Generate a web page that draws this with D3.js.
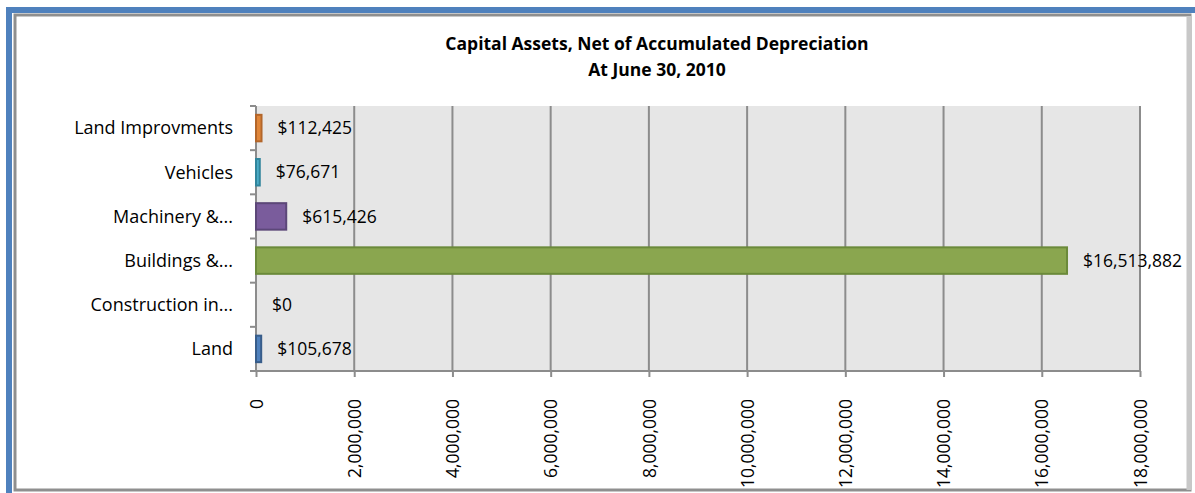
<!DOCTYPE html>
<html>
<head>
<meta charset="utf-8">
<script src="https://cdn.jsdelivr.net/npm/d3@7"></script>
<style>
  body { margin: 0; background: #fff; }
  svg { display: block; }
</style>
</head>
<body>
<div id="chart"></div>
<script>
// data, bottom to top order as in the chart
const categories = ["Land", "Construction in...", "Buildings &...", "Machinery &...", "Vehicles", "Land Improvments"];
const values = [105678, 0, 16513882, 615426, 76671, 112425];
const fills = ["#4f81bd", "#c0504d", "#8aa64f", "#7a5c9c", "#4bacc6", "#e0863a"];
const strokes = ["#385d8a", "#8c3836", "#6b8a3a", "#5c4778", "#31859c", "#b3662a"];
const xTicks = [0, 2000000, 4000000, 6000000, 8000000, 10000000, 12000000, 14000000, 16000000, 18000000];
const titleLines = ["Capital Assets, Net of Accumulated Depreciation", "At June 30, 2010"];

const W = 1195, H = 493;
const margin = { top: 106, right: 55, bottom: 122, left: 256 };
const width = W - margin.left - margin.right;
const height = H - margin.top - margin.bottom;

const root = d3.select("#chart").append("svg")
    .attr("width", W)
    .attr("height", H)
    .style("font-family", "'Open Sans', sans-serif");

// frame: blue outer border + gray bevel
root.append("rect")
    .attr("x", 9).attr("y", 10)
    .attr("width", W).attr("height", H)
    .attr("fill", "none")
    .attr("stroke", "#4f81bd")
    .attr("stroke-width", 6);
root.append("rect")
    .attr("x", 15).attr("y", 15)
    .attr("width", 1175).attr("height", 475)
    .attr("fill", "#fff")
    .attr("stroke", "#8f8f8f")
    .attr("stroke-width", 3);
root.append("line")
    .attr("x1", 1189).attr("x2", 1189).attr("y1", 16).attr("y2", 490)
    .attr("stroke", "#c8c8c8").attr("stroke-width", 5);

root.selectAll(".title")
    .data(titleLines)
    .enter()
    .append("text")
    .attr("x", 657)
    .attr("y", (d, i) => 50 + i * 26)
    .attr("text-anchor", "middle")
    .style("font-size", "17.5px")
    .style("font-weight", "bold")
    .style("fill", "#000")
    .text(d => d);

const svg = root.append("g")
    .attr("transform", `translate(${margin.left}, ${margin.top})`);

const xScale = d3.scaleLinear()
    .domain([0, 18000000])
    .range([0, width]);

const yScale = d3.scaleBand()
    .domain(categories.slice().reverse())
    .range([0, height])
    .paddingInner(0.4)
    .paddingOuter(0.2);

const yTickScale = d3.scaleLinear().domain([0, categories.length]).range([0, height]);

svg.append("rect")
    .attr("width", width)
    .attr("height", height)
    .attr("fill", "#e6e6e6");

// vertical gridlines
svg.selectAll(".grid")
    .data(xTicks.slice(1))
    .enter()
    .append("line")
    .attr("x1", d => xScale(d)).attr("x2", d => xScale(d))
    .attr("y1", 0).attr("y2", height)
    .attr("stroke", "#8c8c8c")
    .attr("stroke-width", 2);

// x axis
const xAxis = svg.append("g")
    .attr("transform", `translate(0, ${height})`)
    .call(d3.axisBottom(xScale).tickValues(xTicks).tickSize(6).tickSizeOuter(0).tickFormat(d3.format(",")));
xAxis.select(".domain").attr("stroke", "#8c8c8c").attr("stroke-width", 2).attr("d", `M-6,0H${width}`);
xAxis.selectAll(".tick line").attr("stroke", "#8c8c8c").attr("stroke-width", 2);
xAxis.selectAll(".tick text")
    .attr("transform", "rotate(-90)")
    .attr("text-anchor", "end")
    .attr("x", -28)
    .attr("y", 0)
    .attr("dy", "0.35em")
    .style("font-size", "17.5px")
    .style("font-family", "'Open Sans', sans-serif")
    .style("fill", "#000");

// y axis line + ticks
svg.append("line")
    .attr("x1", 0).attr("x2", 0).attr("y1", 0).attr("y2", height)
    .attr("stroke", "#8c8c8c").attr("stroke-width", 2);
svg.selectAll(".ytick")
    .data(d3.range(categories.length))
    .enter()
    .append("line")
    .attr("x1", -6).attr("x2", 0)
    .attr("y1", d => yTickScale(d)).attr("y2", d => yTickScale(d))
    .attr("stroke", "#8c8c8c").attr("stroke-width", 2);

svg.selectAll(".ylabel")
    .data(categories)
    .enter()
    .append("text")
    .attr("x", -23)
    .attr("y", d => yScale(d) + yScale.bandwidth() / 2)
    .attr("dy", "0.35em")
    .attr("text-anchor", "end")
    .style("font-size", "18px")
    .style("fill", "#000")
    .text(d => d);

svg.selectAll(".bar")
    .data(categories)
    .enter()
    .append("rect")
    .attr("class", "bar")
    .attr("x", 0)
    .attr("y", d => yScale(d))
    .attr("width", (d, i) => xScale(values[i]))
    .attr("height", yScale.bandwidth())
    .attr("fill", (d, i) => fills[i])
    .attr("stroke", (d, i) => values[i] > 0 ? strokes[i] : "none")
    .attr("stroke-width", 2);

svg.selectAll(".label")
    .data(categories)
    .enter()
    .append("text")
    .attr("x", (d, i) => xScale(values[i]) + 16)
    .attr("y", d => yScale(d) + yScale.bandwidth() / 2)
    .attr("dy", "0.35em")
    .style("font-size", "17.5px")
    .style("fill", "#000")
    .text((d, i) => "$" + d3.format(",")(values[i]));
</script>
</body>
</html>
